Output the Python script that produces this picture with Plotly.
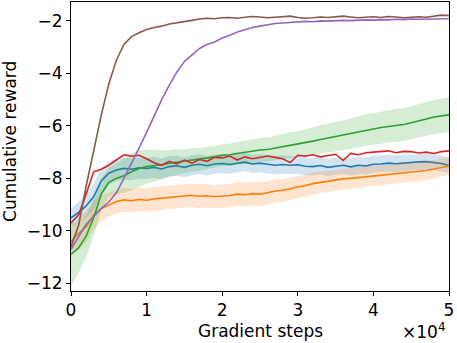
import plotly.graph_objects as go

# gradient steps (every 1000 steps)
steps = [0, 1000, 2000, 3000, 4000, 5000, 6000, 7000, 8000, 9000,
         10000, 11000, 12000, 13000, 14000, 15000, 16000, 17000, 18000, 19000,
         20000, 21000, 22000, 23000, 24000, 25000, 26000, 27000, 28000, 29000,
         30000, 31000, 32000, 33000, 34000, 35000, 36000, 37000, 38000, 39000,
         40000, 41000, 42000, 43000, 44000, 45000, 46000, 47000, 48000, 49000, 50000]

blue_mean = [-9.5, -9.3, -9.05, -8.7, -8.1, -7.8, -7.68, -7.62, -7.65, -7.6,
             -7.62, -7.58, -7.64, -7.55, -7.52, -7.58, -7.5, -7.46, -7.52, -7.45,
             -7.43, -7.47, -7.42, -7.38, -7.45, -7.42, -7.46, -7.5, -7.47, -7.5,
             -7.48, -7.54, -7.55, -7.51, -7.58, -7.55, -7.5, -7.56, -7.5, -7.53,
             -7.46, -7.45, -7.42, -7.44, -7.41, -7.4, -7.37, -7.36, -7.39, -7.43, -7.5]
blue_std = [0.35, 0.4, 0.45, 0.5, 0.5, 0.45, 0.42, 0.42, 0.42, 0.4,
            0.4, 0.4, 0.4, 0.4, 0.38, 0.38, 0.38, 0.37, 0.37, 0.36,
            0.36, 0.36, 0.35, 0.35, 0.35, 0.35, 0.35, 0.35, 0.35, 0.34,
            0.34, 0.34, 0.34, 0.34, 0.33, 0.33, 0.33, 0.33, 0.33, 0.33,
            0.32, 0.32, 0.32, 0.32, 0.32, 0.31, 0.31, 0.31, 0.3, 0.3, 0.3]

orange_mean = [-10.4, -10.1, -9.85, -9.4, -9.15, -9.0, -8.88, -8.82, -8.85, -8.8,
               -8.83, -8.78, -8.75, -8.72, -8.7, -8.66, -8.64, -8.68, -8.66, -8.7,
               -8.68, -8.65, -8.6, -8.62, -8.58, -8.6, -8.55, -8.48, -8.45, -8.4,
               -8.32, -8.28, -8.2, -8.15, -8.12, -8.06, -8.02, -8.0, -7.97, -7.93,
               -7.9, -7.88, -7.86, -7.82, -7.8, -7.77, -7.74, -7.7, -7.64, -7.58, -7.53]
orange_std = [0.5, 0.6, 0.6, 0.55, 0.5, 0.45, 0.45, 0.45, 0.45, 0.45,
              0.45, 0.45, 0.45, 0.45, 0.45, 0.45, 0.45, 0.45, 0.45, 0.45,
              0.45, 0.45, 0.45, 0.45, 0.45, 0.45, 0.44, 0.44, 0.43, 0.43,
              0.42, 0.42, 0.42, 0.41, 0.41, 0.4, 0.4, 0.4, 0.4, 0.39,
              0.39, 0.38, 0.38, 0.38, 0.37, 0.37, 0.36, 0.36, 0.35, 0.35, 0.35]

green_mean = [-10.9, -10.65, -10.2, -9.5, -8.6, -8.15, -8.0, -7.9, -7.75, -7.62,
              -7.55, -7.52, -7.48, -7.42, -7.38, -7.35, -7.3, -7.28, -7.22, -7.18,
              -7.12, -7.1, -7.05, -7.0, -6.96, -6.92, -6.9, -6.85, -6.78, -6.74,
              -6.7, -6.64, -6.58, -6.52, -6.46, -6.42, -6.36, -6.3, -6.22, -6.16,
              -6.12, -6.06, -6.02, -5.98, -5.95, -5.88, -5.82, -5.74, -5.66, -5.62, -5.58]
green_std = [1.2, 0.95, 0.8, 0.7, 0.6, 0.55, 0.6, 0.65, 0.7, 0.7,
             0.65, 0.6, 0.55, 0.5, 0.5, 0.45, 0.45, 0.45, 0.42, 0.42,
             0.42, 0.43, 0.44, 0.45, 0.45, 0.45, 0.46, 0.47, 0.48, 0.5,
             0.5, 0.52, 0.53, 0.54, 0.55, 0.56, 0.57, 0.58, 0.58, 0.6,
             0.6, 0.61, 0.62, 0.62, 0.63, 0.63, 0.64, 0.65, 0.65, 0.65, 0.66]

red_mean = [-9.7, -9.4, -8.6, -7.75, -7.65, -7.5, -7.3, -7.1, -7.15, -7.12,
            -7.25, -7.4, -7.5, -7.35, -7.45, -7.3, -7.42, -7.28, -7.35, -7.2,
            -7.22, -7.15, -7.3, -7.18, -7.25, -7.2, -7.15, -7.2, -7.25, -7.4,
            -7.12, -7.15, -7.1, -7.18, -7.12, -7.08, -7.32, -7.05, -7.1, -7.02,
            -7.0, -6.98, -6.95, -7.02, -6.97, -6.98, -7.03, -7.0, -7.05, -6.98, -6.95]

purple_mean = [-10.7, -10.2, -9.75, -9.45, -9.15, -8.9, -8.55, -8.0, -7.45, -6.85,
               -6.25, -5.6, -5.0, -4.45, -3.95, -3.55, -3.3, -3.05, -2.9, -2.8,
               -2.65, -2.55, -2.42, -2.32, -2.25, -2.2, -2.15, -2.1, -2.08, -2.06,
               -2.04, -2.02, -2.03, -2.0, -2.01, -1.99, -1.98, -1.99, -1.97, -1.96,
               -1.97, -1.95, -1.96, -1.94, -1.95, -1.93, -1.94, -1.93, -1.92, -1.92, -1.92]

brown_mean = [-10.6, -9.8, -8.3, -6.9, -5.6, -4.4, -3.5, -2.9, -2.6, -2.45,
              -2.33, -2.25, -2.2, -2.12, -2.08, -2.03, -1.98, -1.93, -1.9, -1.92,
              -1.88, -1.87, -1.9, -1.86, -1.83, -1.85, -1.88, -1.86, -1.84, -1.82,
              -1.87, -1.9, -1.88, -1.85, -1.87, -1.84, -1.82, -1.85, -1.88, -1.86,
              -1.84, -1.87, -1.83, -1.85, -1.88, -1.86, -1.84, -1.86, -1.82, -1.78, -1.8]

x_ticks = [0, 10000, 20000, 30000, 40000, 50000]
x_tick_labels = ["0", "1", "2", "3", "4", "5"]

FONT = "DejaVu Sans"
FS = 17

fig = go.Figure()


def add_band(mean, std, fill):
    upper = [m + s for m, s in zip(mean, std)]
    lower = [m - s for m, s in zip(mean, std)]
    fig.add_trace(go.Scatter(x=steps, y=upper, mode="lines", line=dict(width=0),
                             hoverinfo="skip", showlegend=False))
    fig.add_trace(go.Scatter(x=steps, y=lower, mode="lines", line=dict(width=0),
                             fill="tonexty", fillcolor=fill,
                             hoverinfo="skip", showlegend=False))


def add_line(mean, color):
    fig.add_trace(go.Scatter(x=steps, y=mean, mode="lines",
                             line=dict(color=color, width=1.6), showlegend=False))


add_band(blue_mean, blue_std, "rgba(31,119,180,0.2)")
add_line(blue_mean, "#1f77b4")
add_band(orange_mean, orange_std, "rgba(255,127,14,0.2)")
add_line(orange_mean, "#ff7f0e")
add_band(green_mean, green_std, "rgba(44,160,44,0.2)")
add_line(green_mean, "#2ca02c")
add_line(red_mean, "#d62728")
add_line(purple_mean, "#9467bd")
add_line(brown_mean, "#8c564b")

fig.update_layout(
    width=457,
    height=343,
    margin=dict(l=71, r=8, t=2, b=52),
    plot_bgcolor="white",
    paper_bgcolor="white",
    font=dict(family=FONT, size=FS, color="black"),
    showlegend=False,
)
fig.update_xaxes(
    range=[0, 50000], tickvals=x_ticks, ticktext=x_tick_labels,
    showgrid=False, zeroline=False, showline=True, linecolor="black", linewidth=1,
    mirror=True, ticks="outside", ticklen=4, tickcolor="black",
    ticklabeloverflow="allow",
)
fig.update_yaxes(
    range=[-12.29, -1.28], dtick=2,
    showgrid=False, zeroline=False, showline=True, linecolor="black", linewidth=1,
    mirror=True, ticks="outside", ticklen=4, tickcolor="black",
)
# axis titles and offset text
fig.add_annotation(text="Gradient steps", xref="paper", yref="paper",
                   x=0.5, y=-0.138, xanchor="center", yanchor="middle",
                   showarrow=False, font=dict(family=FONT, size=FS))
fig.add_annotation(text="Cumulative reward", xref="paper", yref="paper",
                   x=-0.163, y=0.517, xanchor="center", yanchor="middle", textangle=-90,
                   showarrow=False, font=dict(family=FONT, size=FS))
fig.add_annotation(text="×10<sup>4</sup>", xref="paper", yref="paper",
                   x=0.995, y=-0.138, xanchor="right", yanchor="middle",
                   showarrow=False, font=dict(family=FONT, size=FS))

fig.write_html("out.html", config={"displayModeBar": False},
               post_script="document.body.style.margin='0';")
